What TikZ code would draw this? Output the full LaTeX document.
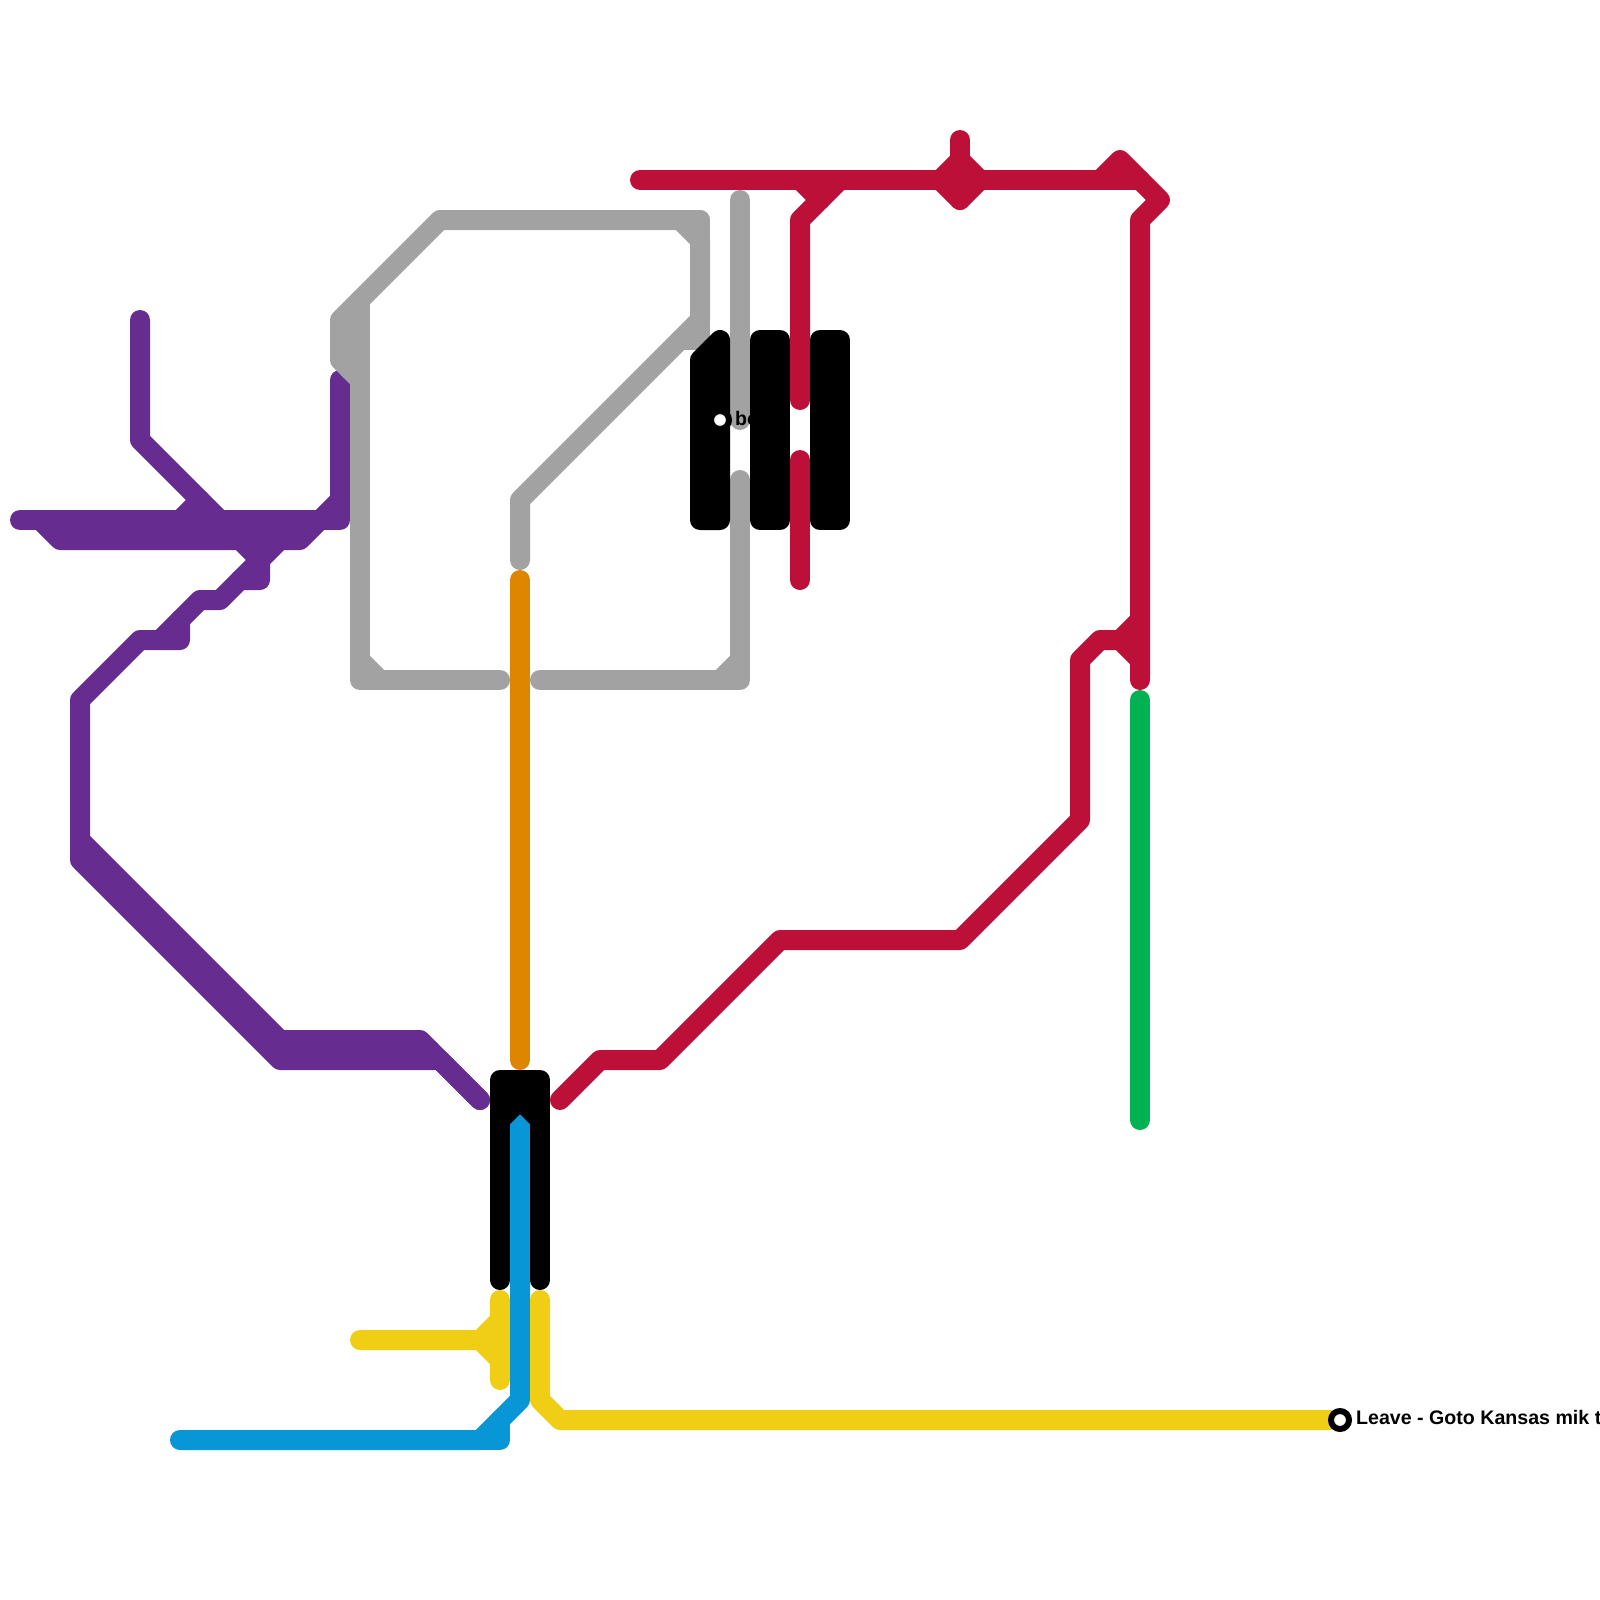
\documentclass[tikz,border=0pt]{standalone}
\usepackage{fontspec}
\setmainfont{Liberation Sans}
\definecolor{lpurple}{HTML}{662C90}
\definecolor{lred}{HTML}{BD1038}
\definecolor{lgray}{HTML}{A2A2A2}
\definecolor{lblue}{HTML}{0896D7}
\definecolor{lyellow}{HTML}{F0CE15}
\definecolor{lgreen}{HTML}{00B251}
\definecolor{lorange}{HTML}{DF8600}
\tikzset{
  railline/.style={line width=20pt,line cap=round,line join=round},
  purpleline/.style={railline,draw=lpurple},
  redline/.style={railline,draw=lred},
  grayline/.style={railline,draw=lgray},
  blueline/.style={railline,draw=lblue},
  yellowline/.style={railline,draw=lyellow},
  greenline/.style={railline,draw=lgreen},
  orangeline/.style={railline,draw=lorange},
  blackline/.style={railline,draw=black},
  stationring/.style={circle,draw=black,fill=white,line width=6pt,minimum size=18pt,inner sep=0pt},
  stationlabel/.style={anchor=base west,inner sep=0pt,font=\bfseries\fontsize{19.6}{20}\selectfont,text=black},
}
\begin{document}
\begin{tikzpicture}[x=1pt,y=-1pt]
\useasboundingbox (0,0) rectangle (1600,1600);
\clip (0,0) rectangle (1600,1600);
\fill[white] (0,0) rectangle (1600,1600);
% purple
\draw[purpleline] (140,320)--(140,440)--(220,520);
\draw[purpleline] (20,520)--(340,520)--(340,380);
\draw[purpleline] (40,520)--(60,540)--(300,540)--(340,500);
\draw[purpleline] (60,530)--(300,530);
\draw[purpleline] (180,520)--(200,500);
\draw[purpleline] (240,540)--(260,560)--(260,580)--(240,580);
\draw[purpleline] (280,540)--(220,600)--(200,600)--(160,640);
\draw[purpleline] (180,620)--(180,640)--(140,640)--(80,700)--(80,860)--(280,1060)--(440,1060)--(480,1100);
\draw[purpleline] (80,840)--(280,1040)--(420,1040)--(480,1100);
\draw[purpleline] (280,1050)--(430,1050);
% gray
\draw[grayline] (520,560)--(520,500)--(700,320)--(700,240)--(680,220)--(440,220)--(340,320)--(340,360)--(360,380);
\draw[grayline] (700,220)--(700,340)--(680,340);
\draw[grayline] (680,220)--(700,220);
\draw[grayline] (350,340)--(350,370);
\draw[grayline] (360,300)--(360,680)--(500,680);
\draw[grayline] (360,660)--(380,680);
\draw[grayline] (540,680)--(740,680)--(740,480);
\draw[grayline] (720,680)--(740,660);
\draw[grayline] (740,200)--(740,420);
% orange
\draw[orangeline] (520,580)--(520,1060);
% red
\draw[redline] (640,180)--(1140,180);
\draw[redline] (800,180)--(820,200);
\draw[redline] (840,180)--(800,220)--(800,400);
\draw[redline] (800,460)--(800,580);
\draw[redline,fill=lred] (940,180)--(960,160)--(980,180)--(960,200)--cycle;
\draw[redline] (960,140)--(960,200);
\draw[redline] (1100,180)--(1120,160)--(1160,200)--(1140,220)--(1140,680);
\draw[redline] (1140,660)--(1120,640)--(1100,640)--(1080,660)--(1080,820)--(960,940)--(780,940)--(660,1060)--(600,1060)--(560,1100);
\draw[redline] (1140,620)--(1120,640);
% green
\draw[greenline] (1140,700)--(1140,1120);
% blue
\draw[blueline] (520,1100)--(520,1400)--(480,1440)--(180,1440);
\draw[blueline] (480,1440)--(500,1440)--(500,1420);
% black
\draw[blackline,fill=black] (760,340)--(780,340)--(780,520)--(760,520)--cycle;
\draw[blackline,fill=black] (820,340)--(840,340)--(840,520)--(820,520)--cycle;
\draw[blackline,fill=black] (700,520)--(700,360)--(720,340)--(720,520)--cycle;
\draw[blackline] (500,1280)--(500,1080)--(540,1080)--(540,1280);
\draw[blackline] (500,1120)--(520,1100)--(540,1120);
\draw[blackline] (520,1080)--(520,1100);
% yellow
\draw[yellowline] (360,1340)--(480,1340)--(500,1320);
\draw[yellowline] (480,1340)--(500,1360);
\draw[yellowline] (500,1300)--(500,1380);
\coordinate (leaveend) at (1330,1420);
\draw[yellowline] (leaveend)--(560,1420)--(540,1400)--(540,1300);
\node[stationring] (leave) at (1340,1420) {};
\node[stationlabel] (leavelabel) at (1356,1424) {Leave - Goto Kansas mik t};
\node[stationring] (bo) at (720,420) {};
\node[stationlabel] (bolabel) at (735,425) {bo};
\end{tikzpicture}
\end{document}
